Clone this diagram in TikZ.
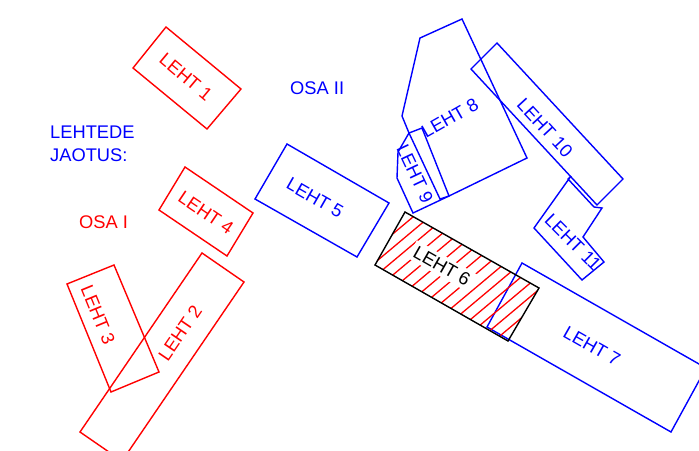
\documentclass[tikz,border=0pt]{standalone}
\usepackage{fontspec}
\setmainfont{Liberation Sans}
\usepackage{tikz}

\begin{document}
\begin{tikzpicture}[x=1pt,y=-1pt,
   osaone/.style={draw=red,line width=1.4pt,line join=miter},
   osatwo/.style={draw=blue,line width=1.4pt,line join=miter},
   lehtlabel/.style={inner sep=0pt,font=\fontsize{18.3}{22}\selectfont},
   hatch/.style={draw=red,line width=1.3pt}]
\useasboundingbox (0,0) rectangle (699,450);
\clip (0,0) rectangle (699,450);

% osa I
\draw[osaone] (166,27) -- (241,89) -- (207,129) -- (133,68) -- cycle;
\draw[osaone] (202,253) -- (244,282) -- (122,461) -- (80,432) -- cycle;
\draw[osaone] (67,284) -- (114,265) -- (159,372) -- (111,392) -- cycle;
\draw[osaone] (185,167) -- (253,213) -- (227,256) -- (159,210) -- cycle;

% osa II
\draw[osatwo] (287,144) -- (389,203) -- (357,257) -- (255,199) -- cycle;
\draw[osatwo] (522,263) -- (706,368) -- (671,432) -- (487,327) -- cycle;
\draw[osatwo] (409,133) -- (402,116) -- (420,38) -- (462,19) -- (527,158) -- (449,196) -- (440,199) -- cycle;
\draw[osatwo] (422,128) -- (449,196) -- (413,213) -- (397,178) -- (398,152) -- (409,133) -- cycle;
\draw[osatwo] (497,43) -- (623,179) -- (597,205) -- (471,69) -- cycle;
\draw[osatwo] (571,176) -- (568,179) -- (594,207) -- (602,208) -- (583,237) -- (604,262) -- (582,280) -- (534,228) -- cycle;

% leht 6
\begin{scope}
  \clip (405,212) -- (539,288) -- (508,341) -- (375,265) -- cycle;
  \begin{scope}[shift={(457,276)},rotate=-50]
    \foreach \i in {-11,...,11}
      \draw[hatch] (\i*10.5,-90) -- (\i*10.5,90);
  \end{scope}
\end{scope}
\draw[line width=1.4pt] (405,212) -- (539,288) -- (508,341) -- (375,265) -- cycle;

% sildid
\node[lehtlabel,text=red,rotate=-40] (l1) at (186,77) {LEHT 1};
\node[lehtlabel,text=red,rotate=55.7] (l2) at (180,333) {LEHT 2};
\node[lehtlabel,text=red,rotate=-67.7] (l3) at (98,315) {LEHT 3};
\node[lehtlabel,text=red,rotate=-34] (l4) at (206,213) {LEHT 4};
\node[lehtlabel,text=blue,rotate=-29.8] (l5) at (315,198) {LEHT 5};
\node[lehtlabel,rotate=-29.7,fill=white,inner sep=3.5pt] (l6) at (442,266) {LEHT 6};
\node[lehtlabel,text=blue,rotate=-29.7] (l7) at (592,346) {LEHT 7};
\node[lehtlabel,text=blue,rotate=29.7] (l8) at (450,118) {LEHT 8};
\node[lehtlabel,text=blue,rotate=-64.8] (l9) at (415,174) {LEHT 9};
\node[lehtlabel,text=blue,rotate=-47.3] (l10) at (545,128) {LEHT 10};
\node[lehtlabel,text=blue,rotate=-45] (l11) at (573,242) {LEHT 11};

\node[lehtlabel,text=blue,anchor=base west] (lehtede) at (50,138) {LEHTEDE};
\node[lehtlabel,text=blue,anchor=base west] (jaotus) at (50,161) {JAOTUS:};
\node[lehtlabel,text=red,anchor=base west] (osa1) at (79,228) {OSA I};
\node[lehtlabel,text=blue,anchor=base west] (osa2) at (290,94) {OSA II};
\end{tikzpicture}
\end{document}
